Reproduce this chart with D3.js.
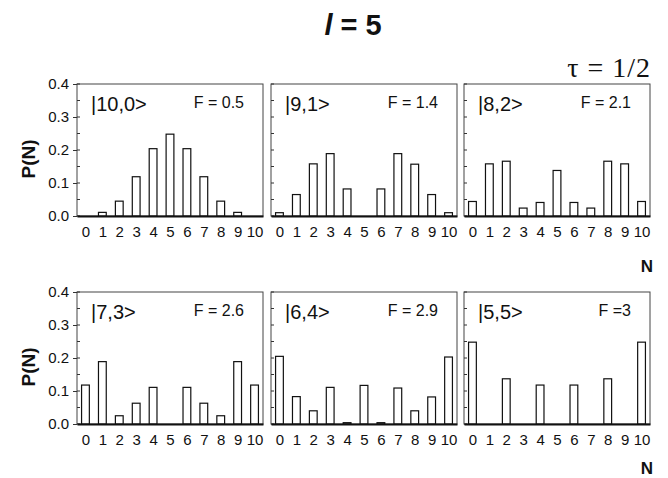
<!DOCTYPE html>
<html>
<head>
<meta charset="utf-8">
<script src="https://cdn.jsdelivr.net/npm/d3@7"></script>
<style>
  html, body { margin: 0; padding: 0; background: #fff; }
  svg { display: block; }
  text { font-family: "Liberation Sans", Arial, Helvetica, sans-serif; fill: #111; }
</style>
</head>
<body>
<svg id="chart" width="668" height="478"></svg>
<script>
// ---- data ----
const categories = [0, 1, 2, 3, 4, 5, 6, 7, 8, 9, 10];
const yTicks = [0.0, 0.1, 0.2, 0.3, 0.4];
const kets = ["|10,0>", "|9,1>", "|8,2>", "|7,3>", "|6,4>", "|5,5>"];
const fLabels = ["F = 0.5", "F = 1.4", "F = 2.1", "F = 2.6", "F = 2.9", "F =3"];
const p10_0 = [0, 0.011, 0.045, 0.119, 0.204, 0.248, 0.204, 0.119, 0.045, 0.011, 0];
const p9_1  = [0.010, 0.065, 0.158, 0.189, 0.082, 0, 0.082, 0.189, 0.157, 0.065, 0.010];
const p8_2  = [0.044, 0.158, 0.166, 0.024, 0.041, 0.138, 0.041, 0.024, 0.166, 0.158, 0.044];
const p7_3  = [0.118, 0.189, 0.025, 0.063, 0.111, 0, 0.111, 0.063, 0.025, 0.189, 0.118];
const p6_4  = [0.205, 0.083, 0.040, 0.111, 0.004, 0.117, 0.004, 0.109, 0.040, 0.082, 0.203];
const p5_5  = [0.248, 0, 0.137, 0, 0.118, 0, 0.118, 0, 0.137, 0, 0.248];
const series = [p10_0, p9_1, p8_2, p7_3, p6_4, p5_5];

// ---- layout ----
const svg = d3.select("#chart");
const colLeft = [77, 271, 464];
const panelW = 186;
const rowTop = [84, 292];
const panelH = 132;
const nLabelY = [272, 474];

// title
const title = svg.append("text")
  .attr("x", 353).attr("y", 35)
  .attr("text-anchor", "middle")
  .style("font-size", "29px").style("font-weight", "bold");
title.append("tspan").style("font-style", "italic").text("l");
title.append("tspan").text(" = 5");

svg.append("text")
  .attr("x", 651).attr("y", 77)
  .attr("text-anchor", "end")
  .style("font-family", "'Liberation Serif', 'Times New Roman', serif")
  .style("font-size", "28px")
  .style("letter-spacing", "1px")
  .text("τ = 1/2");

series.forEach((vals, i) => {
  const col = i % 3, row = Math.floor(i / 3);
  const x0 = colLeft[col], y0 = rowTop[row];
  const x = d3.scaleLinear().domain([-0.5, 10.5]).range([x0, x0 + panelW]);
  const y = d3.scaleLinear().domain([0, 0.4]).range([y0 + panelH, y0]);
  const bw = (x(1) - x(0)) * 0.46;
  const g = svg.append("g");

  // box
  g.append("rect")
    .attr("x", x0).attr("y", y0)
    .attr("width", panelW).attr("height", panelH)
    .attr("fill", "none").attr("stroke", "#444").attr("stroke-width", 1);

  // inner minor ticks every 0.05 on left edge
  const minor = d3.range(0, 0.401, 0.05);
  g.selectAll("line.minor").data(minor).join("line")
    .attr("x1", x0).attr("x2", x0 + 3)
    .attr("y1", d => y(d)).attr("y2", d => y(d))
    .attr("stroke", "#333").attr("stroke-width", 1);

  // bars
  g.selectAll("rect.bar").data(categories).join("rect")
    .attr("class", "bar")
    .attr("x", d => x(d) - bw / 2)
    .attr("y", d => y(vals[d]))
    .attr("width", bw)
    .attr("height", d => y(0) - y(vals[d]))
    .attr("fill", "#fff").attr("stroke", "#111").attr("stroke-width", 1.2);

  // x axis baseline
  const xAxis = d3.axisBottom(x).tickValues(categories).tickSize(0).tickPadding(10)
    .tickFormat(d3.format("d"));
  const ax = g.append("g").attr("transform", `translate(0,${y0 + panelH})`).call(xAxis);
  ax.select(".domain").attr("stroke", "#111").attr("stroke-width", 2);
  ax.selectAll("text").style("font-size", "15px")
    .style("font-family", "'Liberation Sans', Arial, sans-serif").attr("fill", "#111");

  // y axis labels on left column
  if (col === 0) {
    const yAxis = d3.axisLeft(y).tickValues(yTicks).tickSize(4).tickPadding(4)
      .tickFormat(d3.format(".1f"));
    const ay = g.append("g").attr("transform", `translate(${x0},0)`).call(yAxis);
    ay.select(".domain").remove();
    ay.selectAll("line").attr("stroke", "#333");
    ay.selectAll("text").style("font-size", "15px")
      .style("font-family", "'Liberation Sans', Arial, sans-serif").attr("fill", "#111");
    svg.append("text")
      .attr("transform", `translate(35,${y0 + panelH / 2 + 9}) rotate(-90)`)
      .attr("text-anchor", "middle")
      .style("font-size", "19px").style("font-weight", "bold")
      .text("P(N)");
  }

  // labels inside panel
  g.append("text")
    .attr("x", x0 + 14).attr("y", y0 + 27)
    .style("font-size", "20px")
    .text(kets[i]);
  g.append("text")
    .attr("x", x0 + panelW - 19).attr("y", y0 + 24)
    .attr("text-anchor", "end")
    .style("font-size", "16px")
    .text(fLabels[i]);

  // N label at right
  if (col === 2) {
    svg.append("text")
      .attr("x", 653).attr("y", nLabelY[row])
      .attr("text-anchor", "end")
      .style("font-size", "17px").style("font-weight", "bold")
      .text("N");
  }
});
</script>
</body>
</html>
